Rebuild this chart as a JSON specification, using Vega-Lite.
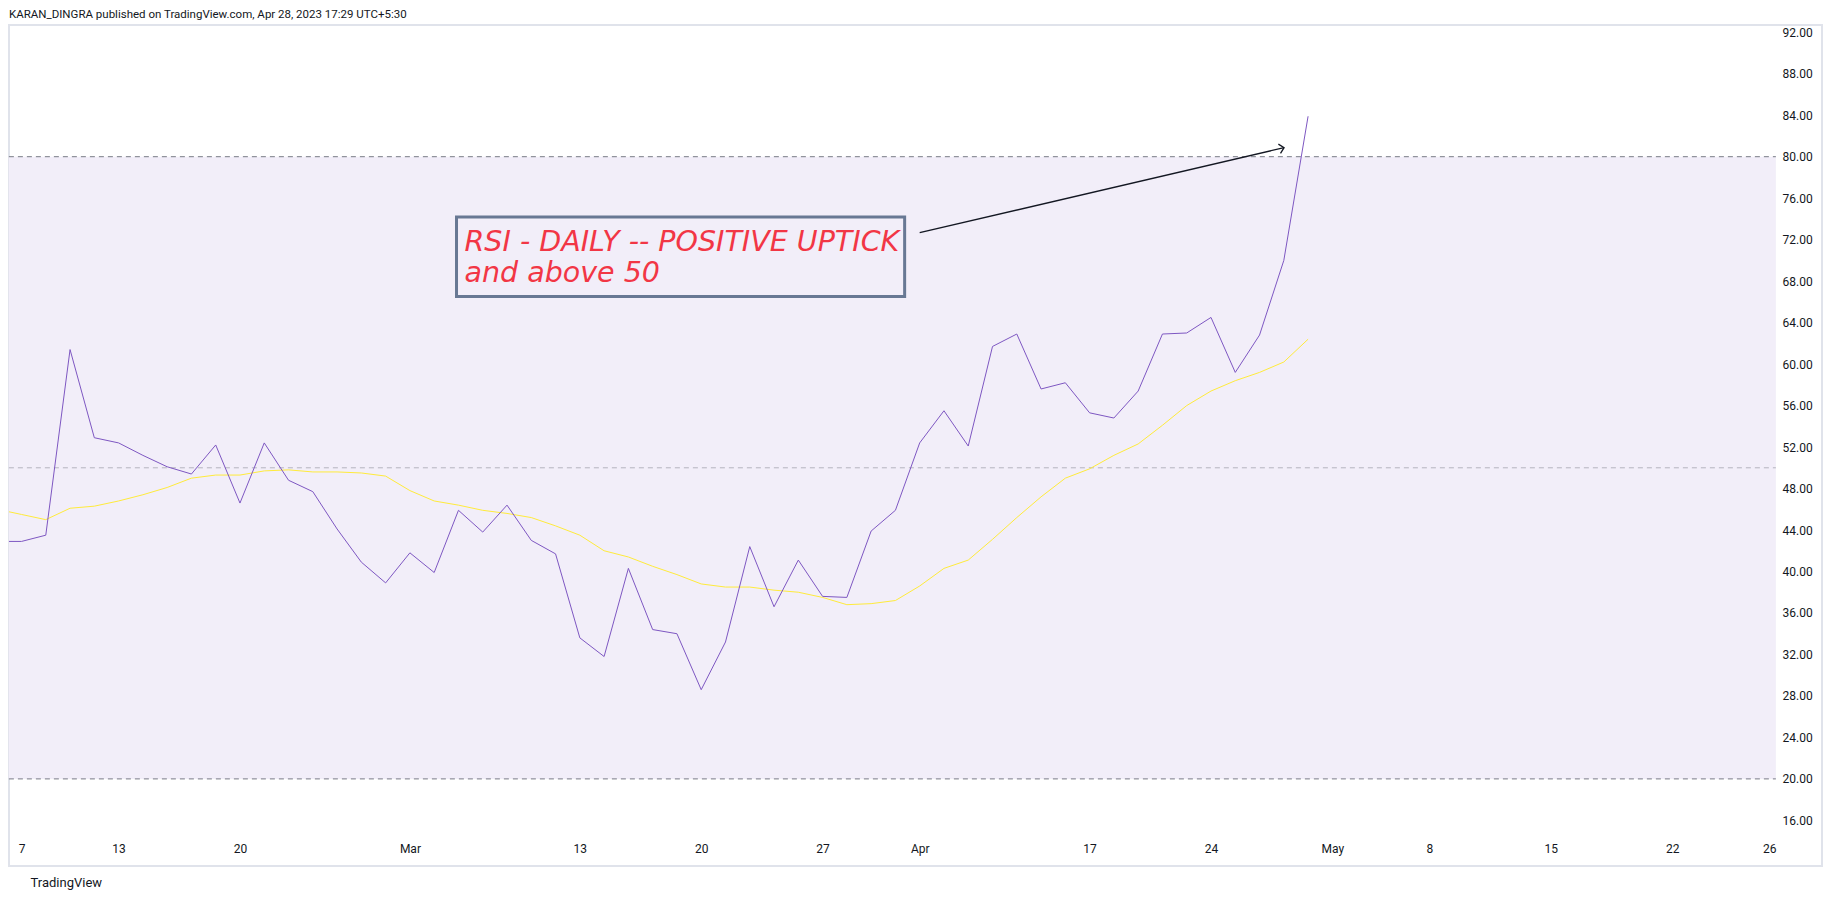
{
  "$schema": "https://vega.github.io/schema/vega-lite/v6.json",
  "width": 1813,
  "height": 841,
  "autosize": {"type": "none"},
  "padding": {"left": 9, "top": 25, "right": 12, "bottom": 33},
  "background": "#ffffff",
  "title": {
    "text": "KARAN_DINGRA published on TradingView.com, Apr 28, 2023 17:29 UTC+5:30",
    "anchor": "start",
    "frame": "group",
    "font": "Roboto",
    "fontSize": 11.5,
    "fontWeight": "normal",
    "color": "#131722",
    "baseline": "alphabetic",
    "offset": 6,
    "dy": 10
  },
  "config": {
    "view": {"stroke": "#E0E3EB", "strokeWidth": 2}
  },
  "datasets": {
    "rsi": [
      {"d": "2023-02-06", "i": -1, "rsi": 42.9, "ma": 46.0},
      {"d": "2023-02-07", "i": 0, "rsi": 42.9, "ma": 45.5},
      {"d": "2023-02-08", "i": 1, "rsi": 43.5, "ma": 45.0},
      {"d": "2023-02-09", "i": 2, "rsi": 61.4, "ma": 46.1},
      {"d": "2023-02-10", "i": 3, "rsi": 52.9, "ma": 46.3},
      {"d": "2023-02-13", "i": 4, "rsi": 52.4, "ma": 46.8},
      {"d": "2023-02-14", "i": 5, "rsi": 51.2, "ma": 47.4},
      {"d": "2023-02-15", "i": 6, "rsi": 50.1, "ma": 48.1},
      {"d": "2023-02-16", "i": 7, "rsi": 49.4, "ma": 49.0},
      {"d": "2023-02-17", "i": 8, "rsi": 52.2, "ma": 49.3},
      {"d": "2023-02-20", "i": 9, "rsi": 46.6, "ma": 49.3},
      {"d": "2023-02-21", "i": 10, "rsi": 52.4, "ma": 49.7},
      {"d": "2023-02-22", "i": 11, "rsi": 48.8, "ma": 49.8},
      {"d": "2023-02-23", "i": 12, "rsi": 47.7, "ma": 49.6},
      {"d": "2023-02-24", "i": 13, "rsi": 44.1, "ma": 49.6},
      {"d": "2023-02-27", "i": 14, "rsi": 40.9, "ma": 49.5},
      {"d": "2023-02-28", "i": 15, "rsi": 38.9, "ma": 49.2},
      {"d": "2023-03-01", "i": 16, "rsi": 41.8, "ma": 47.8},
      {"d": "2023-03-02", "i": 17, "rsi": 39.9, "ma": 46.8},
      {"d": "2023-03-03", "i": 18, "rsi": 45.9, "ma": 46.4},
      {"d": "2023-03-06", "i": 19, "rsi": 43.8, "ma": 45.9},
      {"d": "2023-03-08", "i": 20, "rsi": 46.4, "ma": 45.6},
      {"d": "2023-03-09", "i": 21, "rsi": 43.0, "ma": 45.2},
      {"d": "2023-03-10", "i": 22, "rsi": 41.7, "ma": 44.4},
      {"d": "2023-03-13", "i": 23, "rsi": 33.6, "ma": 43.5},
      {"d": "2023-03-14", "i": 24, "rsi": 31.8, "ma": 42.0},
      {"d": "2023-03-15", "i": 25, "rsi": 40.3, "ma": 41.4},
      {"d": "2023-03-16", "i": 26, "rsi": 34.4, "ma": 40.5},
      {"d": "2023-03-17", "i": 27, "rsi": 34.0, "ma": 39.7},
      {"d": "2023-03-20", "i": 28, "rsi": 28.6, "ma": 38.8},
      {"d": "2023-03-21", "i": 29, "rsi": 33.2, "ma": 38.5},
      {"d": "2023-03-22", "i": 30, "rsi": 42.4, "ma": 38.5},
      {"d": "2023-03-23", "i": 31, "rsi": 36.6, "ma": 38.2},
      {"d": "2023-03-24", "i": 32, "rsi": 41.1, "ma": 38.0},
      {"d": "2023-03-27", "i": 33, "rsi": 37.6, "ma": 37.5},
      {"d": "2023-03-28", "i": 34, "rsi": 37.5, "ma": 36.8},
      {"d": "2023-03-29", "i": 35, "rsi": 43.9, "ma": 36.9},
      {"d": "2023-03-31", "i": 36, "rsi": 45.9, "ma": 37.2},
      {"d": "2023-04-03", "i": 37, "rsi": 52.4, "ma": 38.6},
      {"d": "2023-04-05", "i": 38, "rsi": 55.5, "ma": 40.3},
      {"d": "2023-04-06", "i": 39, "rsi": 52.1, "ma": 41.1},
      {"d": "2023-04-10", "i": 40, "rsi": 61.7, "ma": 43.1},
      {"d": "2023-04-11", "i": 41, "rsi": 62.9, "ma": 45.2},
      {"d": "2023-04-12", "i": 42, "rsi": 57.6, "ma": 47.2},
      {"d": "2023-04-13", "i": 43, "rsi": 58.2, "ma": 49.0},
      {"d": "2023-04-17", "i": 44, "rsi": 55.3, "ma": 49.9},
      {"d": "2023-04-18", "i": 45, "rsi": 54.8, "ma": 51.2},
      {"d": "2023-04-19", "i": 46, "rsi": 57.4, "ma": 52.3},
      {"d": "2023-04-20", "i": 47, "rsi": 62.9, "ma": 54.1},
      {"d": "2023-04-21", "i": 48, "rsi": 63.0, "ma": 56.0},
      {"d": "2023-04-24", "i": 49, "rsi": 64.5, "ma": 57.4},
      {"d": "2023-04-25", "i": 50, "rsi": 59.2, "ma": 58.4},
      {"d": "2023-04-26", "i": 51, "rsi": 62.8, "ma": 59.2},
      {"d": "2023-04-27", "i": 52, "rsi": 70.0, "ma": 60.2},
      {"d": "2023-04-28", "i": 53, "rsi": 83.9, "ma": 62.4}
    ],
    "levels_outer": [{"level": 80}, {"level": 20}],
    "levels_mid": [{"level": 50}],
    "one": [{}]
  },
  "layer": [
    {
      "data": {"name": "one"},
      "mark": {"type": "rect", "fill": "#F2EEF9"},
      "encoding": {
        "x": {"datum": -0.52, "type": "quantitative", "scale": {"domain": [-0.515, 74.17], "nice": false, "zero": false}},
        "x2": {"datum": 72.27},
        "y": {"datum": 80, "type": "quantitative", "scale": {"domain": [11.6, 92.7], "nice": false, "zero": false}},
        "y2": {"datum": 20}
      }
    },
    {
      "data": {"name": "levels_outer"},
      "mark": {"type": "rule", "stroke": "#787B86", "strokeWidth": 1, "strokeDash": [5, 4]},
      "encoding": {
        "x": {"datum": -0.52, "type": "quantitative", "scale": {"domain": [-0.515, 74.17], "nice": false, "zero": false}},
        "x2": {"datum": 72.27},
        "y": {"field": "level", "type": "quantitative", "scale": {"domain": [11.6, 92.7], "nice": false, "zero": false}}
      }
    },
    {
      "data": {"name": "levels_mid"},
      "mark": {"type": "rule", "stroke": "#787B86", "strokeOpacity": 0.5, "strokeWidth": 1, "strokeDash": [5, 4]},
      "encoding": {
        "x": {"datum": -0.52, "type": "quantitative", "scale": {"domain": [-0.515, 74.17], "nice": false, "zero": false}},
        "x2": {"datum": 72.27},
        "y": {"field": "level", "type": "quantitative", "scale": {"domain": [11.6, 92.7], "nice": false, "zero": false}}
      }
    },
    {
      "data": {"name": "rsi"},
      "mark": {"type": "line", "stroke": "#FFEB3B", "strokeWidth": 1, "clip": true},
      "encoding": {
        "x": {"field": "i", "type": "quantitative", "scale": {"domain": [-0.515, 74.17], "nice": false, "zero": false}},
        "y": {"field": "ma", "type": "quantitative", "scale": {"domain": [11.6, 92.7], "nice": false, "zero": false}}
      }
    },
    {
      "data": {"name": "rsi"},
      "mark": {"type": "line", "stroke": "#7E57C2", "strokeWidth": 1, "clip": true},
      "encoding": {
        "x": {
          "field": "i",
          "type": "quantitative",
          "title": "TradingView",
          "scale": {"domain": [-0.515, 74.17], "nice": false, "zero": false},
          "axis": {
            "orient": "bottom",
            "offset": -28,
            "zindex": 1,
            "values": [0, 4, 9, 16, 23, 28, 33, 37, 44, 49, 54, 58, 63, 68, 72],
            "labelExpr": "datum.value==0?'7':datum.value==4?'13':datum.value==9?'20':datum.value==16?'Mar':datum.value==23?'13':datum.value==28?'20':datum.value==33?'27':datum.value==37?'Apr':datum.value==44?'17':datum.value==49?'24':datum.value==54?'May':datum.value==58?'8':datum.value==63?'15':datum.value==68?'22':'26'",
            "domain": false,
            "ticks": false,
            "grid": false,
            "labelPadding": 5,
            "labelFont": "Roboto",
            "labelFontSize": 12,
            "labelColor": "#131722",
            "labelFlush": false,
            "labelOverlap": false,
            "labelBound": false,
            "titleX": 21,
            "titleY": 44,
            "titleAlign": "left",
            "titleBaseline": "middle",
            "titleFont": "Roboto",
            "titleFontSize": 13,
            "titleFontWeight": "normal",
            "titleColor": "#131722"
          }
        },
        "y": {
          "field": "rsi",
          "type": "quantitative",
          "title": null,
          "scale": {"domain": [11.6, 92.7], "nice": false, "zero": false},
          "axis": {
            "orient": "right",
            "offset": -46,
            "zindex": 1,
            "values": [16, 20, 24, 28, 32, 36, 40, 44, 48, 52, 56, 60, 64, 68, 72, 76, 80, 84, 88, 92],
            "format": ".2f",
            "domain": false,
            "ticks": false,
            "grid": false,
            "labelPadding": 6,
            "labelFont": "Roboto",
            "labelFontSize": 12,
            "labelColor": "#131722",
            "labelAlign": "left",
            "labelBaseline": "middle",
            "labelFlush": false,
            "labelOverlap": false,
            "labelBound": false
          }
        }
      }
    },
    {
      "data": {"name": "one"},
      "mark": {"type": "rect", "fill": null, "fillOpacity": 0, "stroke": "#687894", "strokeWidth": 3},
      "encoding": {
        "x": {"datum": 17.92, "type": "quantitative", "scale": {"domain": [-0.515, 74.17], "nice": false, "zero": false}},
        "x2": {"datum": 36.38},
        "y": {"datum": 74.19, "type": "quantitative", "scale": {"domain": [11.6, 92.7], "nice": false, "zero": false}},
        "y2": {"datum": 66.53}
      }
    },
    {
      "data": {"name": "one"},
      "mark": {"type": "text", "text": ["RSI - DAILY -- POSITIVE UPTICK", "and above 50"], "lineHeight": 31, "align": "left", "baseline": "alphabetic", "font": "DejaVu Sans", "fontStyle": "italic", "fontSize": 28.5, "fill": "#F23645"},
      "encoding": {
        "x": {"datum": 18.25, "type": "quantitative", "scale": {"domain": [-0.515, 74.17], "nice": false, "zero": false}},
        "y": {"datum": 70.94, "type": "quantitative", "scale": {"domain": [11.6, 92.7], "nice": false, "zero": false}}
      }
    },
    {
      "data": {"name": "one"},
      "mark": {"type": "rule", "stroke": "#131722", "strokeWidth": 1.3},
      "encoding": {
        "x": {"datum": 37.0, "type": "quantitative", "scale": {"domain": [-0.515, 74.17], "nice": false, "zero": false}},
        "x2": {"datum": 52.01},
        "y": {"datum": 72.67, "type": "quantitative", "scale": {"domain": [11.6, 92.7], "nice": false, "zero": false}},
        "y2": {"datum": 80.87}
      }
    },
    {
      "data": {"name": "one"},
      "mark": {"type": "point", "shape": "M-1,-1L0,0L-1,1", "filled": false, "stroke": "#131722", "strokeWidth": 1.3, "size": 90, "angle": 346.9, "opacity": 1},
      "encoding": {
        "x": {"datum": 52.01, "type": "quantitative", "scale": {"domain": [-0.515, 74.17], "nice": false, "zero": false}},
        "y": {"datum": 80.87, "type": "quantitative", "scale": {"domain": [11.6, 92.7], "nice": false, "zero": false}}
      }
    }
  ]
}
